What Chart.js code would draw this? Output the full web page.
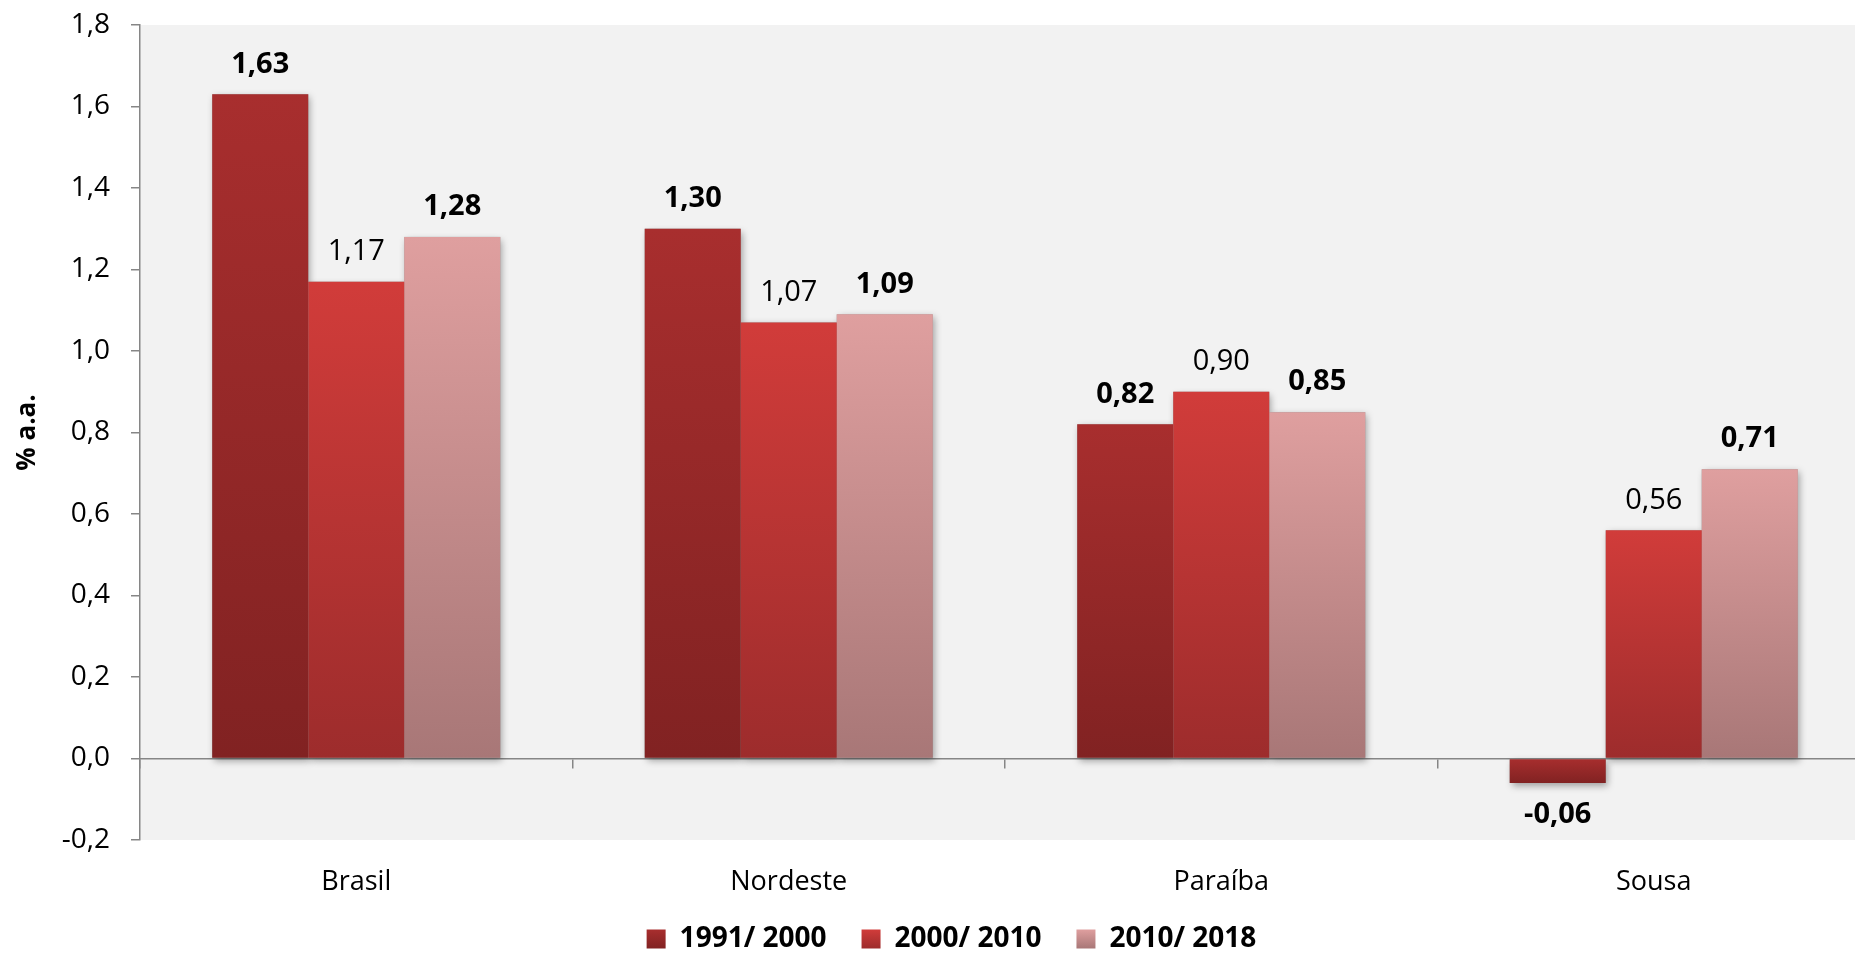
<!DOCTYPE html>
<html>
<head>
<meta charset="utf-8">
<script src="https://cdn.jsdelivr.net/npm/chart.js@4"></script>
<style>
  html, body { margin: 0; padding: 0; background: #ffffff; }
  #wrap { width: 1855px; height: 954px; position: relative; }
</style>
</head>
<body>
<div id="wrap"><canvas id="taxaChart"></canvas></div>
<script>
// ---------------- données ----------------
const regioes = ["Brasil", "Nordeste", "Paraíba", "Sousa"];
const periodos = ["1991/ 2000", "2000/ 2010", "2010/ 2018"];
const taxa1991_2000 = [1.63, 1.30, 0.82, -0.06];
const taxa2000_2010 = [1.17, 1.07, 0.90, 0.56];
const taxa2010_2018 = [1.28, 1.09, 0.85, 0.71];
const yTicks = [-0.2, 0, 0.2, 0.4, 0.6, 0.8, 1.0, 1.2, 1.4, 1.6, 1.8];

// couleurs (haut / bas du dégradé) et style des étiquettes
const palette = [
  { top: "#a82e2e", bottom: "#812222", solid: "#9a2929" },
  { top: "#d13c3a", bottom: "#9d2c2c", solid: "#c53737" },
  { top: "#df9f9f", bottom: "#a87777", solid: "#d39595" }
];
const labelBold = [true, false, true];

const FONT = "'Open Sans', 'Noto Sans', sans-serif";
const LEGEND_PAD = 35;
const LEGEND_FONT = 28;
const LEGEND_BOX = 19;

function fmt(v, d) {
  return v.toFixed(d).replace(".", ",");
}

function vGradient(c, i, y0, y1) {
  if (!Number.isFinite(y0) || !Number.isFinite(y1) || Math.abs(y1 - y0) < 1) return palette[i].solid;
  const g = c.createLinearGradient(0, y0, 0, y1);
  g.addColorStop(0, palette[i].top);
  g.addColorStop(1, palette[i].bottom);
  return g;
}

function barGradient(i) {
  return (context) => {
    const chart = context.chart;
    if (!chart.chartArea || context.type !== "data") return palette[i].solid;
    const y = chart.scales.y;
    const v = context.raw;
    const top = y.getPixelForValue(Math.max(v, 0));
    const bot = y.getPixelForValue(Math.min(v, 0));
    return vGradient(chart.ctx, i, top, bot);
  };
}

// fond gris de la zone de tracé
const plotBackground = {
  id: "plotBackground",
  beforeDraw(chart) {
    const { ctx, chartArea } = chart;
    ctx.save();
    ctx.fillStyle = "#f2f2f2";
    ctx.fillRect(chartArea.left, chartArea.top, chartArea.right - chartArea.left, chartArea.bottom - chartArea.top);
    ctx.restore();
  }
};

// l'original est rogné à droite : on prolonge l'axe des catégories au-delà du canvas
// et on décale un peu la légende
const layoutTweaks = {
  id: "layoutTweaks",
  afterLayout(chart) {
    ["x", "xZero"].forEach(id => {
      const s = chart.scales[id];
      s.right += 15;
      s.width += 15;
      s.configure();
    });
    chart.legend.left += 18;
    chart.legend.right += 18;
  }
};

// ombre portée sous les barres
const barShadow = {
  id: "barShadow",
  beforeDatasetsDraw(chart) {
    const ctx = chart.ctx;
    ctx.save();
    ctx.shadowColor = "rgba(0,0,0,0.35)";
    ctx.shadowBlur = 7;
    ctx.shadowOffsetX = 2;
    ctx.shadowOffsetY = 3;
    ctx.fillStyle = "#999999";
    chart.data.datasets.forEach((ds, i) => {
      chart.getDatasetMeta(i).data.forEach(bar => {
        const { x, y, base, width } = bar.getProps(["x", "y", "base", "width"], true);
        ctx.fillRect(x - width / 2, Math.min(y, base), width, Math.abs(base - y));
      });
    });
    ctx.restore();
  }
};

// étiquettes de valeurs
const valueLabels = {
  id: "valueLabels",
  afterDatasetsDraw(chart) {
    const ctx = chart.ctx;
    ctx.save();
    ctx.fillStyle = "#000000";
    ctx.textAlign = "center";
    ctx.textBaseline = "middle";
    chart.data.datasets.forEach((ds, i) => {
      ctx.font = (labelBold[i] ? "bold " : "") + "29px " + FONT;
      chart.getDatasetMeta(i).data.forEach((bar, j) => {
        const v = ds.data[j];
        const { x, y } = bar.getProps(["x", "y"], true);
        const ty = v >= 0 ? y - 30 : y + 32;
        ctx.fillText(fmt(v, 2), x, ty);
      });
    });
    ctx.restore();
  }
};

const seriesValues = [taxa1991_2000, taxa2000_2010, taxa2010_2018];

const ctx = document.getElementById("taxaChart").getContext("2d");
new Chart(ctx, {
  type: "bar",
  data: {
    labels: regioes,
    datasets: periodos.map((p, i) => ({
      label: p,
      data: seriesValues[i],
      backgroundColor: barGradient(i),
      borderWidth: 0,
      categoryPercentage: 0.666,
      barPercentage: 1.0
    }))
  },
  options: {
    responsive: true,
    maintainAspectRatio: false,
    animation: false,
    layout: { padding: { top: 25, right: 0, left: 12, bottom: -9 } },
    plugins: {
      legend: {
        position: "bottom",
        labels: {
          color: "#000000",
          font: { family: FONT, size: LEGEND_FONT, weight: "bold" },
          boxWidth: LEGEND_BOX,
          boxHeight: LEGEND_BOX,
          padding: LEGEND_PAD,
          generateLabels: (chart) => chart.data.datasets.map((ds, i) => {
            const lg = chart.legend;
            const y0 = lg ? lg.top + LEGEND_PAD + (LEGEND_FONT - LEGEND_BOX) / 2 : NaN;
            return {
              text: ds.label,
              fillStyle: vGradient(chart.ctx, i, y0, y0 + LEGEND_BOX),
              strokeStyle: "rgba(0,0,0,0)",
              lineWidth: 0,
              datasetIndex: i,
              fontColor: "#000000"
            };
          })
        }
      },
      tooltip: { enabled: false }
    },
    scales: {
      x: {
        position: "bottom",
        grid: { display: false, drawTicks: false },
        border: { display: false },
        ticks: {
          color: "#000000",
          font: { family: FONT, size: 27 },
          padding: 26
        },
        afterFit: (scale) => { scale.height = 50; }
      },
      xZero: {
        type: "category",
        axis: "x",
        position: { y: 0 },
        offset: true,
        ticks: { display: false },
        grid: {
          offset: true,
          drawOnChartArea: false,
          drawTicks: true,
          tickLength: 9,
          color: "#868686",
          lineWidth: 1.5
        },
        border: { display: true, color: "#868686", width: 1.5 }
      },
      y: {
        min: -0.2,
        max: 1.8,
        afterBuildTicks: (scale) => {
          scale.ticks = yTicks.map(v => ({ value: v }));
        },
        afterFit: (scale) => {
          scale.width = 128;
          scale.paddingTop = 0;
          scale.paddingBottom = 0;
        },
        ticks: {
          color: "#000000",
          font: { family: FONT, size: 28 },
          padding: 21,
          callback: (v) => fmt(v, 1)
        },
        grid: {
          drawOnChartArea: false,
          drawTicks: true,
          tickLength: 9,
          color: "#868686",
          lineWidth: 1.5
        },
        border: { display: true, color: "#868686", width: 1.5 },
        title: {
          display: true,
          text: "% a.a.",
          color: "#000000",
          font: { family: FONT, size: 26, weight: "bold" },
          padding: { top: 0, bottom: 0 }
        }
      }
    }
  },
  plugins: [plotBackground, layoutTweaks, barShadow, valueLabels]
});
</script>
</body>
</html>
